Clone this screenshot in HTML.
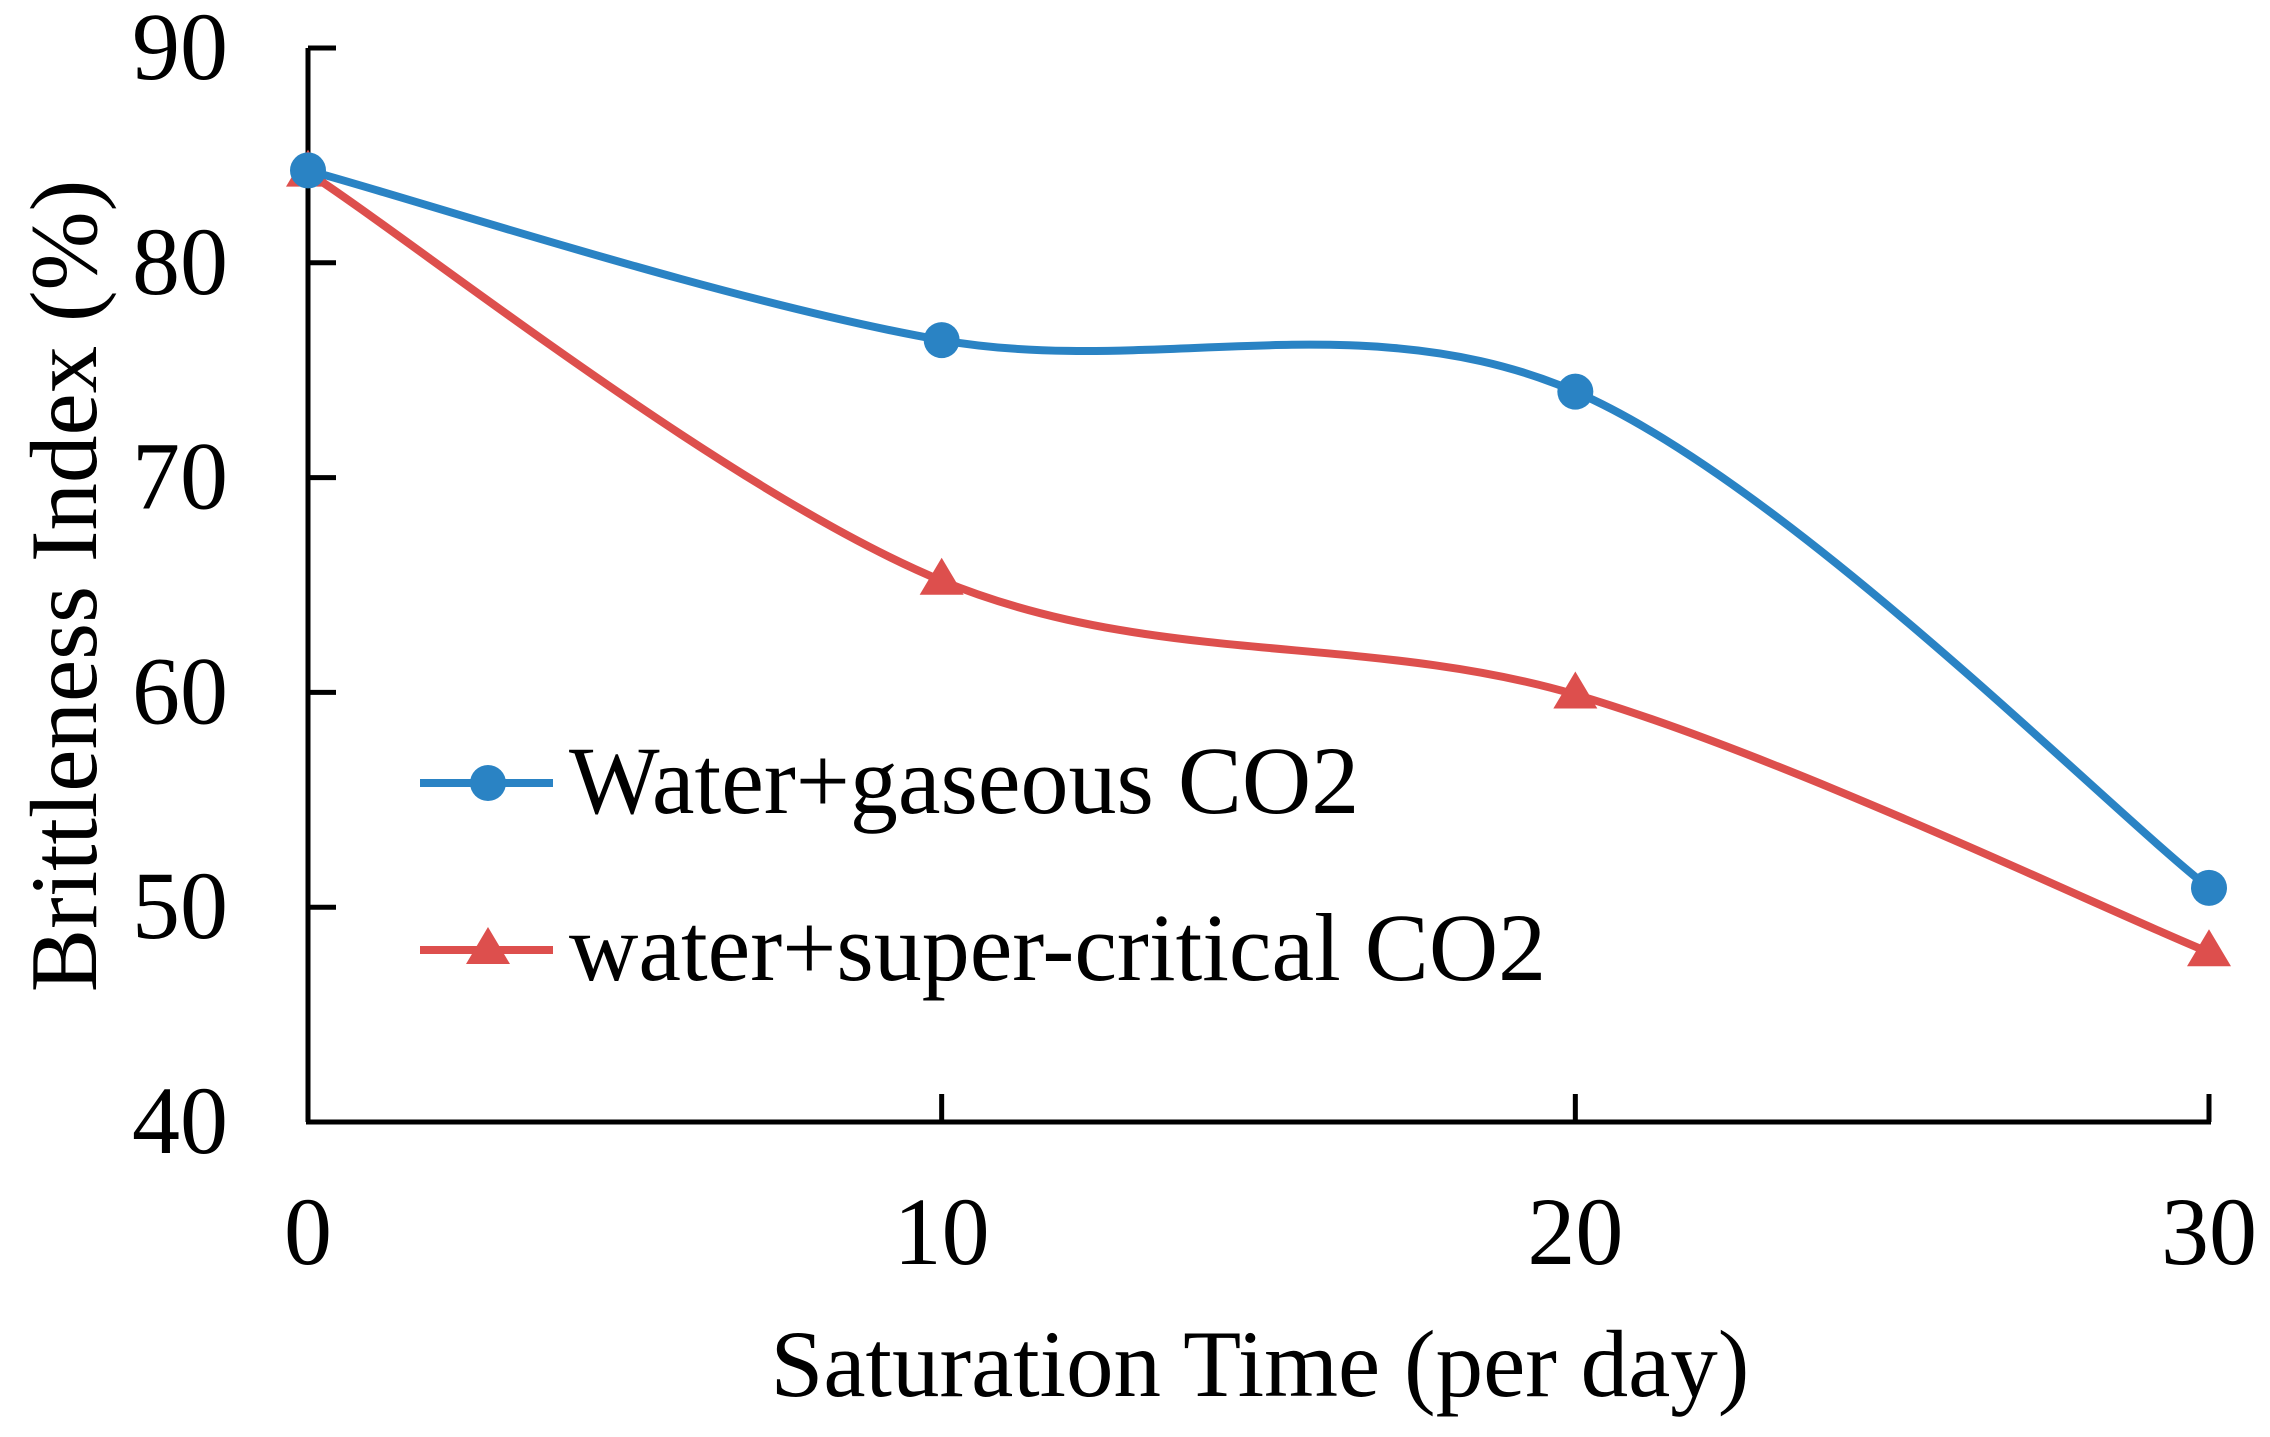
<!DOCTYPE html>
<html><head><meta charset="utf-8"><style>
html,body{margin:0;padding:0;background:#fff;}
svg{display:block;font-family:"Liberation Serif","Times New Roman",serif;}
</style></head><body>
<svg id="chart" width="2270" height="1437" viewBox="0 0 2270 1437" xmlns="http://www.w3.org/2000/svg">
<g id="axes"></g>
<g id="series"></g>
<g id="legend">
  <line x1="420" y1="783" x2="553" y2="783" stroke="#2a83c4" stroke-width="8"/>
  <circle cx="488" cy="783" r="18" fill="#2a83c4"/>
  <text x="569" y="813" font-size="96">Water+gaseous CO2</text>
  <line x1="420" y1="950" x2="553" y2="950" stroke="#dd4f4d" stroke-width="8"/>
  <polygon points="488,927 510,964 466,964" fill="#dd4f4d"/>
  <text x="569" y="980" font-size="96">water+super-critical CO2</text>
</g>
<text x="1260" y="1396" font-size="95" text-anchor="middle">Saturation Time (per day)</text>
<text transform="translate(96,586) rotate(-90)" font-size="95" text-anchor="middle">Brittleness Index (%)</text>
</svg>
<script>
const xCategories = [0, 10, 20, 30];
const gaseousValues = [84.3, 76.4, 74.0, 50.9];
const supercriticalValues = [84.2, 65.2, 59.9, 47.9];
const yTicks = [40, 50, 60, 70, 80, 90];
const xTicks = [0, 10, 20, 30];

const NS = "http://www.w3.org/2000/svg";
const X0 = 308, X1 = 2209, Y0 = 1122, Y1 = 48;
function xs(v){ return X0 + (v - 0) / 30 * (X1 - X0); }
function ys(v){ return Y0 - (v - 40) / 50 * (Y0 - Y1); }
function mk(tag, attrs, parent){ const e = document.createElementNS(NS, tag); for (const k in attrs) e.setAttribute(k, attrs[k]); parent.appendChild(e); return e; }

const axes = document.getElementById('axes');
const yAxis = mk('line', {x1: X0, y1: Y1, x2: X0, y2: Y0, stroke: '#000', 'stroke-width': 5}, axes);


const xAxis = mk('line', {x1: X0 - 2, y1: Y0, x2: X1 + 2, y2: Y0, stroke: '#000', 'stroke-width': 5}, axes);


yTicks.forEach(t => {
  const y = ys(t);
  mk('line', {x1: X0, y1: y, x2: X0 + 28, y2: y, stroke: '#000', 'stroke-width': 5}, axes);
  const tx = mk('text', {x: 228, y: y + 31, 'font-size': 96, 'text-anchor': 'end'}, axes);
  tx.textContent = t;
  
  
});
xTicks.forEach(t => {
  const x = xs(t);
  mk('line', {x1: x, y1: Y0, x2: x, y2: Y0 - 28, stroke: '#000', 'stroke-width': 5}, axes);
  const tx = mk('text', {x: x, y: 1264, 'font-size': 96, 'text-anchor': 'middle'}, axes);
  tx.textContent = t;
  
  
});

function smoothPath(pts){
  let d = `M${pts[0][0]},${pts[0][1]}`;
  for (let i = 0; i < pts.length - 1; i++){
    const p0 = pts[Math.max(0, i - 1)], p1 = pts[i], p2 = pts[i + 1], p3 = pts[Math.min(pts.length - 1, i + 2)];
    const c1 = [p1[0] + (p2[0] - p0[0]) / 6, p1[1] + (p2[1] - p0[1]) / 6];
    const c2 = [p2[0] - (p3[0] - p1[0]) / 6, p2[1] - (p3[1] - p1[1]) / 6];
    d += ` C${c1[0]},${c1[1]} ${c2[0]},${c2[1]} ${p2[0]},${p2[1]}`;
  }
  return d;
}
const series = document.getElementById('series');
function drawSeries(vals, color, marker, name){
  const pts = xCategories.map((c, i) => [xs(c), ys(vals[i])]);
  const p = mk('path', {d: smoothPath(pts), fill: 'none', stroke: color, 'stroke-width': 8}, series);
  
  
  pts.forEach(pt => {
    let m;
    if (marker === 'circle') m = mk('circle', {cx: pt[0], cy: pt[1], r: 18, fill: color}, series);
    else m = mk('polygon', {points: `${pt[0]},${pt[1] - 23} ${pt[0] + 22},${pt[1] + 14} ${pt[0] - 22},${pt[1] + 14}`, fill: color}, series);
    
    
  });
}
drawSeries(supercriticalValues, '#dd4f4d', 'triangle', 'supercritical');
drawSeries(gaseousValues, '#2a83c4', 'circle', 'gaseous');
</script>
</body></html>
